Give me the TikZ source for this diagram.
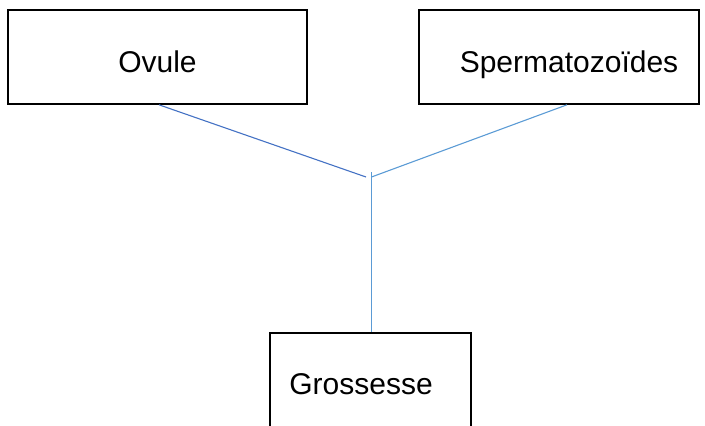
\documentclass[tikz,border=0pt]{standalone}
\usepackage{fontspec}
\setmainfont{Liberation Sans}
\usetikzlibrary{calc}
\definecolor{linkdark}{RGB}{68,114,196}
\definecolor{linklight}{RGB}{91,155,213}
\begin{document}
\begin{tikzpicture}[x=1pt,y=-1pt,
  box/.style={draw=black, line width=1.6pt, inner sep=0pt, text depth=0pt, font=\fontsize{30}{34}\selectfont},
  link/.style={line width=1.1pt}]
\useasboundingbox (0,0) rectangle (705,426);
\clip (0,0) rectangle (705,426);
\node[box, text height=31pt, minimum width=299pt, minimum height=94pt] (ovule) at (157.5,57) {Ovule};
\node[box, text height=31pt, minimum width=280pt, minimum height=94pt] (sperm) at (559,57) {\hspace*{20pt}Spermatozoïdes};
\node[box, text height=21pt, minimum width=201pt, minimum height=101pt] (gross) at (370.5,383.5) {Grossesse\hspace*{19pt}};
\coordinate (jl) at (366,177);
\coordinate (jr) at (371.5,177);
\coordinate (jt) at (371.5,172);
\draw[link, linkdark] ($(ovule.south)+(1.5,0)$) -- (jl);
\draw[link, linklight] ($(sperm.south)+(8,0)$) -- (jr);
\draw[link, linklight, line width=1.4pt] (jt) -- (gross.north -| jt);
\end{tikzpicture}
\end{document}
